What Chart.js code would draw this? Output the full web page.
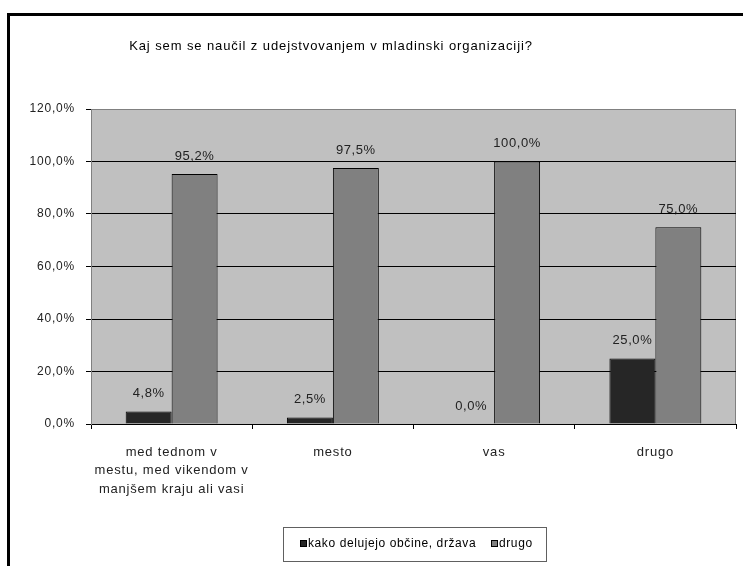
<!DOCTYPE html>
<html>
<head>
<meta charset="utf-8">
<script src="https://cdn.jsdelivr.net/npm/chart.js@4.4.1/dist/chart.umd.min.js"></script>
<style>
    body { margin: 0; background: #fff; }
    #wrap { position: relative; width: 743px; height: 566px; overflow: hidden; }
    #frame { position: absolute; left: 7px; top: 13px; width: 800px; height: 600px; border-top: 3px solid #000; border-left: 3px solid #000; }
    #chart { position: absolute; left: 0; top: 0; }
</style>
</head>
<body>
<div id="wrap">
    <div id="frame"></div>
    <canvas id="chart" width="743" height="566"></canvas>
</div>
<script>
const chartTitle = 'Kaj sem se naučil z udejstvovanjem v mladinski organizaciji?';
const categories = [['med tednom v', 'mestu, med vikendom v', 'manjšem kraju ali vasi'], 'mesto', 'vas', 'drugo'];
const seriesNames = ['kako delujejo občine, država', 'drugo'];
const obcineValues = [0.048, 0.025, 0.0, 0.25];
const drugoValues = [0.952, 0.975, 1.0, 0.75];
const yTicks = [0, 0.2, 0.4, 0.6, 0.8, 1.0, 1.2];

const FONT = '"Liberation Sans", Arial, sans-serif';

function pct(v) {
    return (v * 100).toFixed(1).replace('.', ',') + '%';
}

// plot background, title, value labels and the boxed legend
const excelLook = {
    id: 'excelLook',
    beforeDraw(chart) {
        const { ctx, chartArea: a } = chart;
        // the old Excel screen font is wider than Liberation Sans
        ctx.letterSpacing = '0.8px';
        ctx.save();
        ctx.fillStyle = '#c0c0c0';
        ctx.fillRect(a.left, a.top, a.right - a.left, a.bottom - a.top);
        ctx.strokeStyle = '#808080';
        ctx.lineWidth = 1;
        ctx.strokeRect(a.left + 0.5, a.top + 0.5, a.right - a.left - 1, a.bottom - a.top);
        ctx.restore();
    },
    afterDatasetsDraw(chart) {
        const ctx = chart.ctx;
        ctx.save();
        ctx.font = '13px ' + FONT;
        ctx.letterSpacing = '0.6px';
        ctx.fillStyle = '#222';
        ctx.textAlign = 'center';
        ctx.textBaseline = 'middle';
        chart.data.datasets.forEach((ds, i) => {
            chart.getDatasetMeta(i).data.forEach((bar, j) => {
                ctx.fillText(pct(ds.data[j]), bar.x, bar.y - 18);
            });
        });

        // title
        ctx.font = '13px ' + FONT;
        ctx.letterSpacing = '0.9px';
        ctx.fillStyle = '#000';
        ctx.fillText(chartTitle, 331, 46);

        // legend
        ctx.strokeStyle = '#606060';
        ctx.strokeRect(283.5, 527.5, 263, 34);
        ctx.font = '12px ' + FONT;
        ctx.letterSpacing = '0.6px';
        ctx.textAlign = 'left';
        const items = [{ sq: 300, tx: 308 }, { sq: 491, tx: 499 }];
        chart.data.datasets.forEach((ds, i) => {
            ctx.fillStyle = ds.backgroundColor;
            ctx.fillRect(items[i].sq, 540, 7, 7);
            ctx.strokeStyle = '#000';
            ctx.strokeRect(items[i].sq + 0.5, 540.5, 6, 6);
            ctx.fillStyle = '#000';
            ctx.fillText(ds.label, items[i].tx, 544);
        });
        ctx.restore();
    }
};

new Chart(document.getElementById('chart'), {
    type: 'bar',
    data: {
        labels: categories,
        datasets: [{
            label: seriesNames[0],
            data: obcineValues,
            backgroundColor: '#262626',
            borderColor: '#000',
            borderWidth: 1,
            categoryPercentage: 0.57,
            barPercentage: 1
        }, {
            label: seriesNames[1],
            data: drugoValues,
            backgroundColor: '#808080',
            borderColor: '#000',
            borderWidth: 1,
            categoryPercentage: 0.57,
            barPercentage: 1
        }]
    },
    options: {
        responsive: false,
        animation: false,
        devicePixelRatio: 1,
        layout: { padding: { left: 0, right: 7, top: 109, bottom: 0 } },
        plugins: {
            legend: { display: false },
            title: { display: false },
            tooltip: { enabled: false }
        },
        scales: {
            x: {
                afterFit(scale) { scale.height = 142; },
                grid: { drawOnChartArea: false, drawTicks: true, tickLength: 5, color: '#000', offset: true },
                border: { color: '#000' },
                ticks: {
                    color: '#222',
                    font: { family: FONT, size: 13, lineHeight: 1.43 },
                    padding: 14,
                    maxRotation: 0,
                    autoSkip: false
                }
            },
            y: {
                min: 0,
                max: 1.2,
                afterFit(scale) { scale.width = 91; },
                afterBuildTicks(scale) { scale.ticks = yTicks.map(v => ({ value: v })); },
                grid: {
                    color: ctx => (ctx.tick && ctx.tick.value === 1.2 ? '#808080' : '#000'),
                    tickColor: '#000',
                    tickLength: 5
                },
                border: { color: '#808080' },
                ticks: {
                    color: '#222',
                    font: { family: FONT, size: 12 },
                    padding: 11,
                    callback: v => pct(v)
                }
            }
        }
    },
    plugins: [excelLook]
});
</script>
</body>
</html>
